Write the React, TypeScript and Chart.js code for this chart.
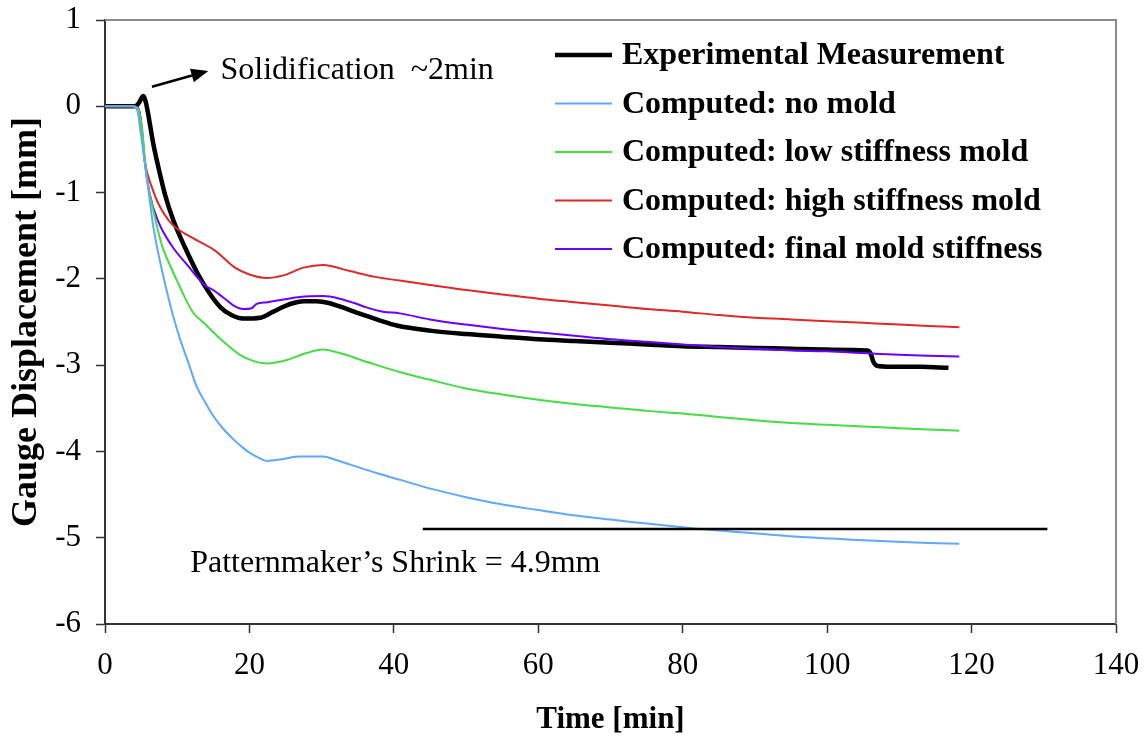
import React, { useEffect, useRef } from "react";
import { Chart, registerables } from "chart.js";
Chart.register(...registerables);

const FONT = '"Liberation Serif", "Times New Roman", Times, serif';

// Axis ranges / tick steps
const xMin = 0, xMax = 140, xStep = 20;
const yMin = -6, yMax = 1, yStep = 1;

const seriesLabels = [
  "Experimental Measurement",
  "Computed: no mold",
  "Computed: low stiffness mold",
  "Computed: high stiffness mold",
  "Computed: final mold stiffness",
];
const seriesColors = ["#000000", "#5FA8FF", "#44DD44", "#E02828", "#6A00FF"];

const expTime = [0,4.2,4.7,5.3,5.7,6.0,6.7,7.4,8.3,9.5,11.1,12.9,14.5,16.0,17.5,19.1,21.5,23.3,24.8,26.1,27.5,29.3,31.0,32.5,34.5,36.2,38.0,40.4,45,50,55,60,65,70,75,80,85,90,95,100,105.5,106.0,106.4,107.0,110,113,116.8];
const expVals = [0,0,0.04,0.12,0.03,-0.1,-0.44,-0.71,-1.02,-1.33,-1.64,-1.95,-2.17,-2.33,-2.42,-2.46,-2.45,-2.38,-2.32,-2.28,-2.26,-2.26,-2.28,-2.32,-2.38,-2.43,-2.48,-2.54,-2.60,-2.64,-2.67,-2.70,-2.72,-2.74,-2.76,-2.78,-2.79,-2.80,-2.81,-2.82,-2.83,-2.86,-2.96,-3.01,-3.02,-3.02,-3.03];

const noMoldTime = [0,3.8,4.5,4.85,5.8,6.7,7.6,8.5,9.4,10.4,11.5,12.7,13.8,15.0,16.4,17.8,19.0,20.1,21.2,22.4,24.5,27.0,30.2,32.0,33.9,37.6,40.9,45.5,50,54.7,60,64,70,73.2,78,82.4,87,91.6,96,100.9,105,110.6,114,118.3];
const noMoldVals = [0,0,-0.05,-0.25,-0.83,-1.40,-1.79,-2.12,-2.42,-2.70,-2.96,-3.25,-3.42,-3.59,-3.74,-3.86,-3.95,-4.02,-4.07,-4.11,-4.09,-4.06,-4.06,-4.10,-4.15,-4.25,-4.33,-4.44,-4.53,-4.61,-4.68,-4.73,-4.79,-4.82,-4.86,-4.90,-4.93,-4.96,-4.99,-5.01,-5.03,-5.05,-5.06,-5.07];

const lowTime = [0,3.8,4.6,5.1,5.8,6.7,7.85,9.2,10.3,11.5,12.2,13.8,15.4,17.0,18.7,20.5,22.4,25.2,27.9,30.2,32.5,36.2,40.8,45,50,55,60,65,70,75,80,85,90,95,100,105,110,114,118.3];
const lowVals = [0,0,-0.03,-0.25,-0.83,-1.21,-1.60,-1.88,-2.08,-2.29,-2.39,-2.52,-2.65,-2.77,-2.88,-2.95,-2.98,-2.94,-2.86,-2.82,-2.86,-2.96,-3.08,-3.17,-3.27,-3.34,-3.40,-3.45,-3.49,-3.53,-3.56,-3.60,-3.64,-3.67,-3.69,-3.71,-3.73,-3.745,-3.76];

const highTime = [0,3.8,4.5,4.85,5.5,6.5,7.4,9.2,12.0,15.2,18.0,20.0,22.4,24.7,27.5,30.2,33.9,37.6,40.8,45,50,55,60,65,70,75,80,85,90,95,100,105,110,114,118.3];
const highVals = [0,0,-0.02,-0.1,-0.63,-0.94,-1.13,-1.36,-1.52,-1.67,-1.87,-1.95,-1.99,-1.96,-1.87,-1.84,-1.91,-1.98,-2.02,-2.07,-2.13,-2.18,-2.23,-2.27,-2.31,-2.35,-2.38,-2.42,-2.45,-2.47,-2.49,-2.51,-2.53,-2.545,-2.56];

const finalTime = [0,3.8,4.6,5.1,5.5,6.2,7.4,9.2,11.5,13.9,15.0,16.6,17.8,19.2,20.3,21.0,22.5,24.7,27.0,30.2,32.5,34.5,36.2,38.5,40.8,45,50,55,60,65,70,75,80,85,90,95,100,105,110,114,118.3];
const finalVals = [0,0,-0.02,-0.25,-0.63,-1.02,-1.34,-1.61,-1.85,-2.08,-2.13,-2.23,-2.31,-2.35,-2.34,-2.29,-2.27,-2.24,-2.21,-2.20,-2.23,-2.28,-2.33,-2.38,-2.40,-2.47,-2.53,-2.58,-2.62,-2.66,-2.70,-2.73,-2.76,-2.79,-2.81,-2.83,-2.84,-2.86,-2.88,-2.89,-2.90];

// Patternmaker's shrink reference line
const shrinkTime = [44, 130.5];
const shrinkVals = [-4.9, -4.9];

const solidText = "Solidification  ~2min";
const shrinkText = "Patternmaker\u2019s Shrink = 4.9mm";

const toPoints = (t: number[], v: number[]) => t.map((x, i) => ({ x, y: v[i] }));

export default function App() {
  const ref = useRef<HTMLCanvasElement>(null);
  useEffect(() => {
    const canvas = ref.current!;
    const series = [
      [expTime, expVals],
      [noMoldTime, noMoldVals],
      [lowTime, lowVals],
      [highTime, highVals],
      [finalTime, finalVals],
    ];
    const widths = [4.5, 2, 2, 2, 2];
    const datasets: any[] = series.map(([t, v], i) => ({
      label: seriesLabels[i],
      data: toPoints(t as number[], v as number[]),
      borderColor: seriesColors[i],
      borderWidth: widths[i],
      pointRadius: 0,
      tension: 0.3,
      cubicInterpolationMode: "monotone",
      fill: false,
      order: i === 0 ? 5 : 1,
    }));
    datasets.push({
      label: "shrink",
      data: toPoints(shrinkTime, shrinkVals),
      borderColor: "#000",
      borderWidth: 2.5,
      pointRadius: 0,
      fill: false,
      order: 0,
    });

    const custom = {
      id: "custom",
      afterDatasetsDraw(chart: any) {
        const { ctx, chartArea: a, scales } = chart;
        const xs = scales.x, ys = scales.y;
        ctx.save();
        // top/right frame
        ctx.strokeStyle = "#8a8a8a";
        ctx.lineWidth = 2;
        ctx.beginPath();
        ctx.moveTo(a.left, a.top);
        ctx.lineTo(a.right, a.top);
        ctx.lineTo(a.right, a.bottom);
        ctx.stroke();

        // Legend
        const lx0 = 555, lx1 = 612, tx = 622, y0 = 55, dy = 48.5;
        ctx.font = `bold 32px ${FONT}`;
        ctx.textBaseline = "middle";
        ctx.textAlign = "left";
        seriesLabels.forEach((lab, i) => {
          const yy = y0 + i * dy;
          ctx.strokeStyle = seriesColors[i];
          ctx.lineWidth = widths[i];
          ctx.beginPath();
          ctx.moveTo(lx0, yy);
          ctx.lineTo(lx1, yy);
          ctx.stroke();
          ctx.fillStyle = "#000";
          ctx.fillText(lab, tx, yy + 1);
        });

        // Solidification annotation with arrow
        ctx.font = `32px ${FONT}`;
        ctx.textBaseline = "alphabetic";
        ctx.fillStyle = "#000";
        ctx.fillText(solidText, xs.getPixelForValue(16.0), ys.getPixelForValue(0.32));
        const ax0 = xs.getPixelForValue(6.5), ay0 = ys.getPixelForValue(0.226);
        const ax1 = xs.getPixelForValue(14.3), ay1 = ys.getPixelForValue(0.41);
        const ang = Math.atan2(ay1 - ay0, ax1 - ax0);
        const hl = 17, hw = 7;
        const bx = ax1 - hl * Math.cos(ang), by = ay1 - hl * Math.sin(ang);
        ctx.strokeStyle = "#000";
        ctx.lineWidth = 2.5;
        ctx.beginPath();
        ctx.moveTo(ax0, ay0);
        ctx.lineTo(bx, by);
        ctx.stroke();
        ctx.beginPath();
        ctx.moveTo(ax1, ay1);
        ctx.lineTo(bx + hw * Math.sin(ang), by - hw * Math.cos(ang));
        ctx.lineTo(bx - hw * Math.sin(ang), by + hw * Math.cos(ang));
        ctx.closePath();
        ctx.fill();

        // Shrink label
        ctx.fillText(shrinkText, xs.getPixelForValue(11.8), ys.getPixelForValue(-5.40));
        ctx.restore();
      },
    };

    const chart = new Chart(canvas, {
      type: "line",
      data: { datasets },
      options: {
        animation: false,
        responsive: false,
        devicePixelRatio: 1,
        layout: { padding: { top: 20, right: 32, left: 0, bottom: 0 } },
        plugins: { legend: { display: false }, tooltip: { enabled: false } },
        scales: {
          x: {
            type: "linear",
            min: xMin,
            max: xMax,
            ticks: { stepSize: xStep, color: "#000", font: { family: FONT, size: 31 }, padding: 14, maxRotation: 0 },
            grid: { drawOnChartArea: false, tickLength: 9, tickColor: "#333", tickWidth: 1.5 },
            border: { color: "#333", width: 2 },
            title: {
              display: true,
              text: "Time [min]",
              color: "#000",
              font: { family: FONT, size: 31, weight: "bold" },
              padding: { top: 0, bottom: 3 },
            },
            afterFit: (s: any) => { s.height = 118; s.paddingLeft = 0; s.paddingRight = 0; },
          },
          y: {
            type: "linear",
            min: yMin,
            max: yMax,
            ticks: { stepSize: yStep, color: "#000", font: { family: FONT, size: 31 }, padding: 15 },
            grid: { drawOnChartArea: false, tickLength: 9, tickColor: "#333", tickWidth: 1.5 },
            border: { color: "#333", width: 2 },
            title: {
              display: true,
              text: "Gauge Displacement [mm]",
              color: "#000",
              font: { family: FONT, size: 36, weight: "bold" },
              padding: { top: 5, bottom: 0 },
            },
            afterFit: (s: any) => { s.width = 105; s.paddingTop = 0; s.paddingBottom = 0; },
          },
        },
      },
      plugins: [custom],
    });
    return () => chart.destroy();
  }, []);

  return (
    <div style={{ position: "absolute", left: 0, top: 0, width: 1148, height: 742, background: "#fff" }}>
      <canvas ref={ref} width={1148} height={742} style={{ display: "block" }} />
    </div>
  );
}
